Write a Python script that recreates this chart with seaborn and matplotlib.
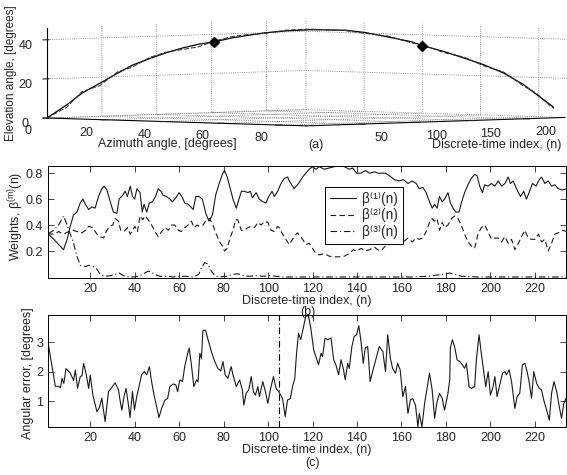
import numpy as np
import pandas as pd
import matplotlib
matplotlib.use("Agg")
import matplotlib.pyplot as plt
import seaborn as sns
from mpl_toolkits.mplot3d import proj3d

# ---- panel (a): DOA trajectory (azimuth, time, elevation) ----
n_traj = [0, 9, 16, 24, 32, 39, 47, 54, 62, 69, 76, 84, 92, 100, 109, 120, 136,
          145, 155, 166, 171, 181, 190, 199, 208, 217, 223, 229, 235]
az_traj = [0, 3.4, 6.0, 9.1, 12.1, 14.7, 17.7, 20.4, 23.4, 26.0, 28.7, 31.7, 34.7,
           37.7, 41.1, 45.3, 51.3, 54.7, 58.5, 62.6, 64.5, 68.3, 71.7, 75.0, 78.4,
           81.8, 84.1, 86.4, 88.6]
el_true = [0, 6.7, 12.7, 17.7, 22.8, 27.0, 30.4, 33.2, 35.8, 37.6, 38.8, 40.8, 42.2,
           43.5, 44.4, 45.0, 44.7, 43.5, 41.3, 38.8, 36.8, 33.7, 30.4, 27.0, 22.8,
           16.9, 11.8, 6.7, 1.7]
el_est = [0, 5.5, 13.5, 16.5, 23.5, 26.0, 31.0, 33.5, 35.0, 36.3, 39.2, 41.5, 42.6,
          43.2, 44.8, 45.3, 44.5, 43.0, 41.8, 38.2, 37.2, 33.1, 30.9, 26.4, 23.3,
          16.2, 12.4, 6.1, 1.5]
n_mark = [76, 171]
az_mark = [28.7, 64.5]
el_mark = [38.8, 36.8]

# ---- panel (b): weights ----
n_b1 = [1, 3.6, 5.8, 8, 9.6, 11, 12.5, 14, 15.5, 16.7, 17.8, 19.3, 20.7, 22.2, 23.7,
        25.2, 26.3, 27.5, 29, 30.4, 32, 33, 34.6, 35.7, 36.7, 38, 39, 40, 41, 42.4,
        43.4, 44.2, 45.4, 46.6, 48, 49.6, 50.6, 51.8, 52.8, 54.3, 55.8, 57, 58.5, 60,
        61.5, 62.5, 64, 65.2, 66.3, 67.5, 69, 70.4, 72, 73.4, 75, 76.4, 78, 79.4, 80.4,
        81.6, 82.7, 84.2, 85.7, 86.9, 88, 89.4, 90.9, 92, 93, 94.6, 96, 97.6, 99,
        100.3, 101.8, 102.8, 104.3, 105.8, 107.3, 108.8, 109.5, 111.7, 113.7, 115.5,
        117, 118.5, 120, 121.5, 123, 125.3, 127.5, 129.8, 132, 134.3, 136.5, 138,
        139.8, 141.8, 143.8, 145.6, 147.8, 149.3, 150.8, 152.8, 154.6, 156.8, 159,
        160.9, 162.9, 164.8, 166.6, 168, 169.6, 171.1, 172.6, 173.8, 174.9, 176,
        177.1, 178.3, 179.4, 180.9, 182, 183.2, 184.4, 185.9, 186.9, 188.4, 189.9,
        191.4, 192.9, 194, 195.2, 196.4, 197.4, 198.9, 200.5, 202, 203.5, 205, 206.5,
        208, 209, 210.2, 212, 213.5, 215, 216.2, 217.4, 218.9, 220.5, 222, 223, 224.5,
        226, 227.5, 229, 230.5, 232.5, 234.3]
beta1 = [0.333, 0.29, 0.25, 0.21, 0.29, 0.39, 0.48, 0.50, 0.57, 0.60, 0.56, 0.52, 0.54,
         0.53, 0.62, 0.68, 0.70, 0.67, 0.58, 0.50, 0.49, 0.60, 0.63, 0.66, 0.62, 0.70,
         0.62, 0.60, 0.68, 0.65, 0.50, 0.56, 0.50, 0.57, 0.58, 0.63, 0.68, 0.66, 0.63,
         0.62, 0.60, 0.58, 0.61, 0.65, 0.61, 0.57, 0.56, 0.54, 0.52, 0.62, 0.62, 0.60,
         0.49, 0.43, 0.48, 0.63, 0.72, 0.79, 0.82, 0.77, 0.70, 0.60, 0.53, 0.60, 0.66,
         0.66, 0.65, 0.66, 0.61, 0.65, 0.60, 0.58, 0.57, 0.62, 0.66, 0.62, 0.66, 0.72,
         0.76, 0.77, 0.74, 0.68, 0.72, 0.77, 0.80, 0.83, 0.85, 0.83, 0.85, 0.83, 0.84,
         0.85, 0.855, 0.85, 0.83, 0.84, 0.80, 0.80, 0.82, 0.80, 0.81, 0.80, 0.80, 0.80,
         0.78, 0.75, 0.74, 0.75, 0.72, 0.74, 0.72, 0.68, 0.69, 0.65, 0.58, 0.53, 0.56,
         0.53, 0.62, 0.58, 0.60, 0.65, 0.57, 0.53, 0.50, 0.50, 0.57, 0.65, 0.71, 0.76,
         0.79, 0.78, 0.70, 0.65, 0.71, 0.70, 0.72, 0.70, 0.74, 0.70, 0.72, 0.77, 0.72,
         0.74, 0.67, 0.62, 0.66, 0.60, 0.65, 0.72, 0.70, 0.75, 0.77, 0.72, 0.74, 0.70,
         0.71, 0.68, 0.67, 0.68]

n_b2 = [1, 3.6, 5.8, 8, 10.3, 12.2, 14, 16.3, 17.8, 19.3, 21.2, 23, 24.5, 26, 27.2,
        28.7, 30.1, 31.2, 32.7, 33.7, 35.2, 36.7, 38, 39.1, 40.1, 41.2, 42.4, 43.6,
        44.6, 46.1, 47.6, 49.1, 50.6, 52.1, 53.6, 55.1, 56.6, 58, 59.6, 61, 62.5, 64,
        65.5, 66.7, 68, 69.3, 70.7, 72.2, 73.7, 75.2, 76.7, 78.2, 79.4, 80.4, 81.6,
        82.7, 84.2, 85.4, 86.4, 87.9, 89.4, 90.9, 92.4, 93.9, 95.4, 96.9, 98.4, 99.9,
        101.3, 102.8, 104.3, 105, 106.5, 108, 109.5, 111.7, 113.2, 115.5, 117, 118.5,
        120, 121.5, 123, 125.3, 127.5, 129.8, 132, 134.3, 136.5, 138.3, 139.8, 141.8,
        143.8, 145.6, 147.8, 149.3, 150.8, 152.8, 154.6, 156.8, 158.8, 160.9, 162.9,
        164.8, 166.6, 168, 169.6, 171.1, 172.6, 173.8, 174.9, 176, 177.1, 178.3, 179.4,
        180.9, 182.5, 183.9, 185.4, 186.9, 188.4, 189.9, 191.4, 192.9, 194.4, 195.9,
        197.4, 198.9, 200.5, 202, 203.5, 205, 206.5, 208, 209.5, 211, 212.6, 214,
        215.5, 217, 218.5, 220, 221.6, 223, 224.5, 226, 227.5, 229, 230.5, 232.5, 234.3]
beta2 = [0.333, 0.33, 0.35, 0.33, 0.35, 0.36, 0.35, 0.34, 0.36, 0.39, 0.38, 0.33, 0.31,
         0.30, 0.35, 0.39, 0.40, 0.45, 0.43, 0.36, 0.35, 0.38, 0.33, 0.36, 0.39, 0.35,
         0.47, 0.44, 0.47, 0.44, 0.40, 0.35, 0.31, 0.35, 0.38, 0.36, 0.40, 0.40, 0.36,
         0.35, 0.38, 0.40, 0.43, 0.38, 0.40, 0.39, 0.40, 0.44, 0.45, 0.40, 0.33, 0.27,
         0.24, 0.20, 0.22, 0.29, 0.36, 0.44, 0.44, 0.36, 0.36, 0.38, 0.39, 0.38, 0.42,
         0.40, 0.43, 0.42, 0.36, 0.35, 0.39, 0.38, 0.33, 0.29, 0.25, 0.31, 0.34, 0.29,
         0.25, 0.26, 0.22, 0.18, 0.17, 0.18, 0.16, 0.155, 0.155, 0.16, 0.18, 0.21, 0.20,
         0.22, 0.20, 0.21, 0.23, 0.21, 0.20, 0.24, 0.25, 0.27, 0.29, 0.27, 0.30, 0.27,
         0.30, 0.29, 0.30, 0.35, 0.42, 0.45, 0.43, 0.45, 0.36, 0.42, 0.38, 0.40, 0.45,
         0.47, 0.45, 0.40, 0.33, 0.27, 0.24, 0.22, 0.33, 0.38, 0.40, 0.35, 0.29, 0.30,
         0.30, 0.27, 0.31, 0.26, 0.29, 0.21, 0.26, 0.31, 0.36, 0.30, 0.29, 0.29, 0.33,
         0.27, 0.29, 0.20, 0.26, 0.33, 0.34, 0.36, 0.35]

n_b3 = [1, 3.6, 5.8, 8, 9.6, 11, 12.5, 14, 15.5, 17.8, 19.3, 21.2, 23, 24.5, 26.7, 29,
        31.2, 33.1, 34.9, 37.2, 39.4, 41.6, 43.9, 46.1, 47.6, 49.1, 51.3, 54.3, 57.3,
        60.3, 63.3, 66.3, 68.8, 70, 71.5, 73, 74.5, 76, 78.2, 81.2, 84.2, 86.4, 88.7,
        91.6, 94.6, 97.6, 100.6, 103.6, 106.6, 115, 130, 150, 165, 172, 176, 179,
        181.7, 184, 187, 195, 210, 225, 234.3]
beta3 = [0.333, 0.36, 0.40, 0.47, 0.40, 0.33, 0.26, 0.16, 0.09, 0.08, 0.09, 0.08, 0.06,
         0.02, 0.005, 0.01, 0.02, 0.03, 0.01, 0.0, 0.0, 0.005, 0.025, 0.045, 0.035, 0.02,
         0.005, 0.005, 0.0, 0.005, 0.005, 0.0, 0.02, 0.07, 0.11, 0.10, 0.045, 0.01, 0.0,
         0.005, 0.02, 0.025, 0.01, 0.005, 0.01, 0.005, 0.01, 0.005, 0.0, 0.0, 0.0, 0.0,
         0.0, 0.005, 0.015, 0.02, 0.03, 0.02, 0.005, 0.0, 0.0, 0.0, 0.0]

# ---- panel (c): angular error ----
n_c = [1, 2.1, 3.6, 4.3, 5.8, 6.6, 7.3, 8.1, 9.1, 11, 12.5, 13.3, 14.3, 15.5, 16.3, 17,
       18.2, 19.3, 20, 21.2, 23, 24.2, 25.2, 26.7, 28.2, 29.4, 31.2, 32.7, 33.4, 34.2,
       35.2, 36.1, 37.2, 37.9, 39, 39.9, 40.9, 41.6, 43.1, 44.3, 45.4, 46.6, 47.6, 48.7,
       49.9, 50.9, 52.1, 53.6, 54.8, 55.8, 57.3, 58.5, 59.3, 60.3, 61.5, 62.5, 63.7,
       64.5, 65.5, 66.6, 67.8, 68.5, 69.3, 70, 70.7, 71.9, 73, 74.5, 76, 77.5, 78.7,
       79.7, 80.7, 81.9, 83.4, 84.2, 85.7, 87.2, 88.4, 89.1, 90.1, 91.3, 92.4, 93.4,
       94.3, 95.4, 96.1, 97.6, 98.8, 99.9, 101, 102.4, 103.6, 104.8, 106.5, 107.7,
       108.7, 110, 111, 112, 112.8, 113.7, 114.7, 115.8, 117, 118.2, 119.2, 120.5,
       121.5, 122.7, 123.8, 124.5, 125.6, 126.8, 128.3, 129.5, 130.5, 131.7, 132.8,
       133.8, 134.7, 135.8, 136.5, 137.7, 138.7, 139.8, 140.8, 141.8, 142.8, 143.7,
       144.8, 145.9, 147, 148.6, 150, 151.6, 152.8, 153.8, 155, 156, 157.3, 158.3,
       159.4, 160.6, 161.8, 162.9, 164, 165, 166.3, 167.4, 168, 169.2, 170.4, 171.4,
       172.6, 173.8, 174.9, 176, 177.1, 178.3, 179.4, 180.9, 181.7, 182, 182.9, 183.9,
       185, 186.2, 187.4, 188.4, 189.2, 190.4, 191.4, 192.9, 193.7, 194.9, 195.9, 197,
       197.9, 199, 200, 201.2, 202, 203, 204.2, 205.4, 206.5, 207.2, 208.4, 209.5, 211,
       212, 213.2, 214.4, 215.5, 216.5, 217.4, 218.5, 219.5, 220.8, 222, 223, 224,
       225.3, 226.5, 227.5, 228.6, 229.8, 231, 232, 233, 234]
err_c = [3.0, 2.5, 1.83, 1.5, 1.5, 1.45, 1.77, 1.6, 2.1, 1.95, 1.7, 2.05, 1.43, 1.83,
         1.86, 2.28, 1.9, 1.43, 1.88, 1.2, 0.64, 0.8, 1.1, 0.3, 1.32, 1.43, 1.62, 1.38,
         1.03, 0.69, 1.15, 1.43, 0.86, 0.44, 1.32, 0.7, 1.15, 1.38, 1.89, 2.0, 1.89,
         2.17, 1.66, 1.2, 0.8, 0.44, 0.75, 1.03, 1.09, 1.49, 1.58, 1.55, 1.32, 1.72,
         1.66, 2.17, 2.57, 2.8, 2.23, 1.49, 1.72, 1.66, 2.62, 2.45, 3.4, 3.4, 3.08, 2.68,
         2.34, 2.1, 2.02, 2.34, 1.89, 1.77, 2.17, 1.89, 1.49, 1.72, 1.38, 0.86, 1.26,
         1.38, 1.83, 1.32, 1.2, 1.49, 1.15, 1.66, 1.32, 0.92, 1.38, 1.83, 1.43, 1.32,
         1.09, 0.47, 1.03, 1.09, 1.49, 1.77, 2.62, 3.3, 3.08, 3.48, 3.9, 3.88, 3.48,
         2.74, 2.51, 2.23, 2.62, 2.51, 3.14, 3.08, 3.14, 2.4, 2.23, 1.89, 2.4, 2.11,
         1.72, 2.28, 2.11, 2.85, 3.19, 3.25, 3.56, 3.02, 2.28, 2.8, 2.85, 1.66, 2.0,
         2.45, 2.85, 2.68, 2.0, 3.25, 2.45, 2.11, 1.94, 2.28, 2.06, 1.15, 1.49, 0.58,
         1.03, 1.09, 0.86, 0.13, 0.58, 0.13, 0.92, 1.38, 1.94, 1.38, 0.41, 0.98, 1.26,
         1.09, 0.69, 1.26, 1.72, 2.8, 3.08, 2.85, 2.4, 2.34, 2.23, 2.11, 2.28, 1.49,
         1.43, 1.49, 2.4, 3.25, 2.62, 2.0, 1.49, 2.0, 1.2, 1.49, 1.83, 1.15, 1.55, 1.94,
         2.0, 1.89, 2.06, 1.66, 0.75, 1.15, 1.26, 2.23, 2.28, 2.0, 1.66, 1.09, 2.0, 1.6,
         1.43, 1.38, 1.03, 0.69, 0.35, 1.26, 1.66, 1.32, 0.8, 0.41, 0.92, 1.09]
n_marker_c = 105

sns.set_style("ticks")
plt.rcParams["font.family"] = ["Liberation Sans", "DejaVu Sans"]
plt.rcParams["font.size"] = 9
plt.rcParams["mathtext.fontset"] = "custom"
plt.rcParams["mathtext.rm"] = "Liberation Sans"
plt.rcParams["mathtext.it"] = "Liberation Sans"
plt.rcParams["mathtext.default"] = "regular"
plt.rcParams["grid.linestyle"] = ":"
plt.rcParams["grid.color"] = "0.45"
plt.rcParams["grid.linewidth"] = 0.6

W, H = 567, 475
fig = plt.figure(figsize=(W / 100, H / 100), dpi=100)

# 3-D panel
ax3 = fig.add_axes([0, 0.4, 1, 1.2], projection="3d", proj_type="ortho")
ax3.set_facecolor("none")
ax3.view_init(elev=1.8, azim=-46)
ax3.plot(az_traj, n_traj, el_true, color="k", lw=0.9)
ax3.plot(az_traj, n_traj, el_est, color="0.2", lw=0.7, linestyle=(0, (5, 2)))
ax3.plot(az_mark, n_mark, el_mark, linestyle="none", marker="D", ms=5.5, color="k")
ax3.set_xlim(0, 89)
ax3.set_ylim(0, 236)
ax3.set_zlim(0, 46)
ax3.set_box_aspect((1, 1.035, 0.25))
ax3.set_xticks([0, 20, 40, 60, 80])
ax3.set_yticks([50, 100, 150, 200])
ax3.set_zticks([0, 20, 40])
ax3.zaxis.set_ticks_position("lower")
ax3.zaxis.set_label_position("lower")
ax3.tick_params(axis="x", labelsize=9, pad=6)
ax3.tick_params(axis="y", labelsize=9, pad=7)
ax3.tick_params(axis="z", labelsize=9, pad=0)
for axis in (ax3.xaxis, ax3.yaxis, ax3.zaxis):
    axis.pane.fill = False
    axis.pane.set_edgecolor("none")
    axis.line.set_color("k")
    axis.line.set_linewidth(0.8)
    axis._axinfo["grid"].update(color="0.45", linewidth=0.6, linestyle=":")
ax3.grid(True)

# place the 3-D box so its floor corners land where the reference has them
fig.canvas.draw()
def to_frac(x, y, z):
    xs, ys, _ = proj3d.proj_transform(np.array([x]), np.array([y]), np.array([z]), ax3.get_proj())
    d = ax3.transData.transform(np.column_stack([xs, ys]))
    return ax3.transAxes.inverted().transform(d)[0]
uL = to_frac(0, 0, 0)
uR = to_frac(89, 236, 0)
side = (565 - 47) / (uR[0] - uL[0])
x0 = 47 - side * uL[0]
y0 = (H - 118) - side * uL[1]
ax3.set_position([x0 / W, y0 / H, side / W, side / H])

fig.text(11 / W, 1 - 73 / H, "Elevation angle, [degrees]", rotation=90,
         ha="center", va="center", fontsize=8.5)
fig.text(167 / W, 1 - 144 / H, "Azimuth angle, [degrees]", ha="center", va="center")
fig.text(497 / W, 1 - 145 / H, "Discrete-time index, (n)", ha="center", va="center")
fig.text(316 / W, 1 - 145 / H, "(a)", ha="center", va="center")

# 2-D panels
axb = fig.add_axes([48 / W, 1 - 278 / H, 518 / W, 112 / H])
axc = fig.add_axes([48 / W, 1 - 427 / H, 518 / W, 112 / H])

sns.lineplot(x=n_b1, y=beta1, ax=axb, color="0.1", lw=0.8, estimator=None, sort=False,
             label="β⁽¹⁾(n)")
sns.lineplot(x=n_b2, y=beta2, ax=axb, color="0.1", lw=0.8, estimator=None, sort=False,
             linestyle=(0, (5, 3)), label="β⁽²⁾(n)")
sns.lineplot(x=n_b3, y=beta3, ax=axb, color="0.1", lw=0.8, estimator=None, sort=False,
             linestyle=(0, (6, 2.5, 1, 2.5)), label="β⁽³⁾(n)")
axb.set_ylim(-0.008, 0.855)
axb.set_yticks([0.2, 0.4, 0.6, 0.8])
axb.set_ylabel(r"Weights, $\beta^{(m)}(n)$")
axb.yaxis.set_label_coords(-0.043, 0.55)
axb.legend(loc="upper left", bbox_to_anchor=(325 / W, 1 - 187 / H),
           bbox_transform=fig.transFigure, frameon=True, fancybox=False,
           edgecolor="k", framealpha=1, handlelength=1.9, borderpad=0.35,
           labelspacing=0.2, handletextpad=0.5, borderaxespad=0, fontsize=9.8)
axb.get_legend().get_frame().set_linewidth(0.7)

sns.lineplot(x=n_c, y=err_c, ax=axc, color="0.1", lw=0.8, estimator=None, sort=False)
axc.axvline(n_marker_c, color="k", lw=0.8, linestyle=(0, (6, 2.5, 1, 2.5)))
axc.set_ylim(0.12, 3.92)
axc.set_yticks([1, 2, 3])
axc.set_ylabel("Angular error, [degrees]")
axc.yaxis.set_label_coords(-0.027, 0.48)

for ax in (axb, axc):
    ax.set_xlim(1, 234)
    ax.set_xticks(range(20, 221, 20))
    ax.set_xlabel("Discrete-time index, (n)", labelpad=0)
    ax.tick_params(direction="in", top=True, right=True, length=4, width=0.6, labelsize=9)
    for s in ax.spines.values():
        s.set_linewidth(0.7)
        s.set_color("k")

fig.text(308 / W, 1 - 312 / H, "(b)", ha="center", va="center")
fig.text(312 / W, 1 - 463 / H, "(c)", ha="center", va="center")

fig.savefig("out.png", dpi=100)
